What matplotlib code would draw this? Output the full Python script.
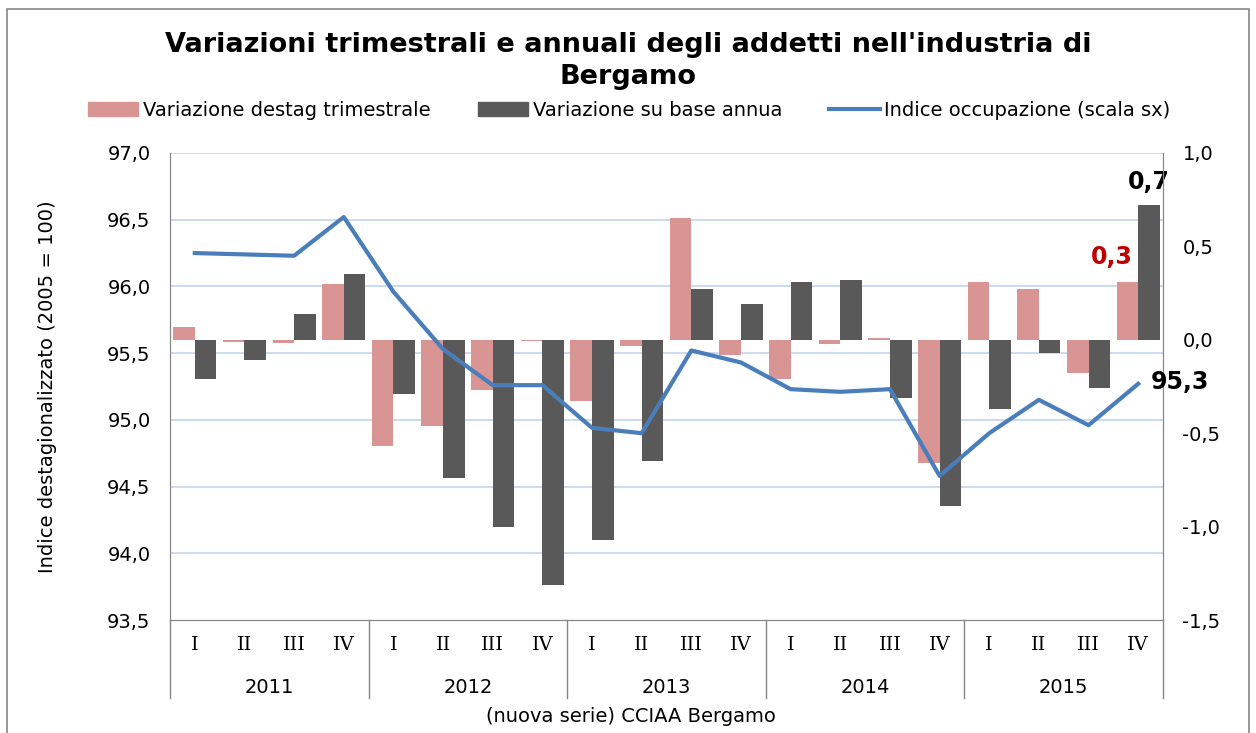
import numpy as np
import matplotlib.pyplot as plt
from matplotlib.patches import Patch, Rectangle
from matplotlib.lines import Line2D
from matplotlib.ticker import FuncFormatter
import matplotlib.transforms as mtransforms

years = ['2011', '2012', '2013', '2014', '2015']
quarters = ['I', 'II', 'III', 'IV']

# variazione destagionalizzata trimestrale (scala dx)
var_trim = [0.07, -0.01, -0.015, 0.30,
            -0.57, -0.46, -0.27, -0.005,
            -0.33, -0.035, 0.65, -0.08,
            -0.21, -0.024, 0.01, -0.66,
            0.31, 0.27, -0.18, 0.31]
# variazione su base annua (scala dx)
var_annua = [-0.21, -0.11, 0.14, 0.35,
             -0.29, -0.74, -1.00, -1.31,
             -1.07, -0.65, 0.27, 0.19,
             0.31, 0.32, -0.31, -0.89,
             -0.37, -0.07, -0.26, 0.72]
# indice occupazione (scala sx)
indice = [96.25, 96.24, 96.23, 96.52,
          95.96, 95.53, 95.26, 95.26,
          94.94, 94.90, 95.52, 95.43,
          95.23, 95.21, 95.23, 94.58,
          94.90, 95.15, 94.96, 95.27]

pink = '#D99594'
dark = '#595959'
blue = '#4A7EBB'
axis_gray = '#868686'

def comma(v, pos):
    return f'{v:.1f}'.replace('.', ',')

fig = plt.figure(figsize=(12.56, 7.33), dpi=100)
ax = fig.add_axes([170 / 1256, 1 - 620 / 733, 993 / 1256, 467 / 733])
ax2 = ax.twinx()
ax.set_zorder(ax2.get_zorder() + 1)
ax.patch.set_visible(False)

n = len(indice)
x = np.arange(n)
w = 0.435

# bars on right scale
ax2.bar(x - w / 2, var_trim, w, color=pink, zorder=2)
ax2.bar(x + w / 2, var_annua, w, color=dark, zorder=2)
ax2.set_ylim(-1.5, 1.0)
ax2.set_yticks(np.arange(-1.5, 1.01, 0.5))
ax2.yaxis.set_major_formatter(FuncFormatter(comma))

# line on left scale
ax.plot(x, indice, color=blue, lw=3, solid_joinstyle='round', zorder=3)
ax.set_ylim(93.5, 97.0)
left_ticks = np.arange(93.5, 97.01, 0.5)
ax.set_yticks(left_ticks)
ax.yaxis.set_major_formatter(FuncFormatter(comma))
ax.set_xlim(-0.5, n - 0.5)
ax.set_xticks([])
ax.set_ylabel('Indice destagionalizzato (2005 = 100)', fontsize=14, labelpad=36)

# gridlines follow the left scale but sit behind the bars
grid_trans = mtransforms.blended_transform_factory(ax2.transAxes, ax.transData)
for v in left_ticks[1:]:
    ax2.plot([0, 1], [v, v], transform=grid_trans, color='#C2D4EE', lw=1.2, zorder=0)

for a in (ax, ax2):
    a.tick_params(axis='y', length=0, labelsize=14, pad=14)
    a.spines['top'].set_visible(False)
    for s in ('left', 'right', 'bottom'):
        a.spines[s].set_color(axis_gray)

# category axis: quarters, years and separators
trans = mtransforms.blended_transform_factory(ax.transData, ax.transAxes)
for i in range(n):
    ax.text(i, -0.054, quarters[i % 4], transform=trans, ha='center', va='center',
            fontsize=14, family='DejaVu Serif')
for k, yr in enumerate(years):
    ax.text(4 * k + 1.5, -0.144, yr, transform=trans, ha='center', va='center', fontsize=14)
for b in np.arange(-0.5, n, 4):
    ax.plot([b, b], [0, -0.168], transform=trans, color=axis_gray, lw=1, clip_on=False)

# data labels
ax2.annotate(comma(var_annua[-1], 0), (n - 1 + w / 2, var_annua[-1]), xytext=(0, 8),
             textcoords='offset points', ha='center', va='bottom', fontsize=17,
             fontweight='bold', color='black')
ax2.annotate(comma(var_trim[-1], 0), (n - 1 - w / 2, var_trim[-1]), xytext=(-11, 9),
             textcoords='offset points', ha='center', va='bottom', fontsize=17,
             fontweight='bold', color='#C00000')
ax.annotate(comma(indice[-1], 0), (n - 1, indice[-1]), xytext=(9, 1),
            textcoords='offset points', ha='left', va='center', fontsize=17,
            fontweight='bold', color='black')

# title and legend
fig.text(0.5, 1 - 61 / 733, "Variazioni trimestrali e annuali degli addetti nell'industria di\nBergamo",
         ha='center', va='center', fontsize=19.5, fontweight='bold', linespacing=1.3)
handles = [Patch(color=pink), Patch(color=dark), Line2D([], [], color=blue, lw=3)]
labels = ['Variazione destag trimestrale', 'Variazione su base annua',
          'Indice occupazione (scala sx)']
fig.legend(handles, labels, loc='center', bbox_to_anchor=(0.501, 1 - 110 / 733), ncol=3,
           frameon=False, fontsize=14, handlelength=2.6, handletextpad=0.25,
           columnspacing=2.4, borderpad=0)

fig.text(631 / 1256, 1 - 717 / 733, '(nuova serie) CCIAA Bergamo', ha='center', va='center',
         fontsize=14)

fig.patches.append(Rectangle((7 / 1256, -0.02), 1242 / 1256, 1.02 - 9 / 733,
                             transform=fig.transFigure, fill=False, edgecolor=axis_gray, lw=1.2))

fig.savefig('out.png', dpi=100)
